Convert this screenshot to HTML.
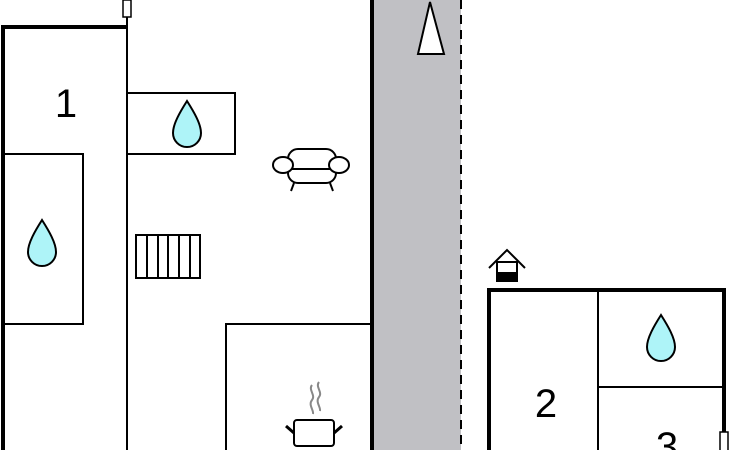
<!DOCTYPE html>
<html><head><style>
body{margin:0;width:730px;height:450px;overflow:hidden;background:#fff}
svg{display:block}
text{font-family:"Liberation Sans",sans-serif;fill:#000}
</style></head><body>
<svg width="730" height="450" viewBox="0 0 730 450">
<rect x="373" y="0" width="88" height="450" fill="#c0c0c4"/>
<line x1="372" y1="0" x2="372" y2="450" stroke="#000" stroke-width="4"/>
<line x1="461" y1="0" x2="461" y2="450" stroke="#000" stroke-width="2" stroke-dasharray="9,6"/>
<polygon points="430,2 418,54 444,54" fill="#fff" stroke="#000" stroke-width="2"/>
<!-- left building -->
<path d="M3,450 V27 H128" fill="none" stroke="#000" stroke-width="4"/>
<line x1="127" y1="17" x2="127" y2="450" stroke="#000" stroke-width="2"/>
<rect x="123" y="0" width="8" height="17" fill="#fff" stroke="#000" stroke-width="1.5"/>
<text x="66" y="117" font-size="40" text-anchor="middle">1</text>
<rect x="3" y="154" width="80" height="170" fill="none" stroke="#000" stroke-width="2"/>
<rect x="127" y="93" width="108" height="61" fill="none" stroke="#000" stroke-width="2"/>
<rect x="226" y="324" width="146" height="130" fill="none" stroke="#000" stroke-width="2"/>
<!-- drops -->
<g fill="#aef4f8" stroke="#000" stroke-width="2">
<path d="M187,101 C180,112 173,124 173,133 A14,14 0 0 0 201,133 C201,124 194,112 187,101 Z"/>
<path d="M42,220 C35,231 28,243 28,252 A14,14 0 0 0 56,252 C56,243 49,231 42,220 Z"/>
<path d="M661,315 C654,326 647,338 647,347 A14,14 0 0 0 675,347 C675,338 668,326 661,315 Z"/>
</g>
<!-- sofa -->
<g fill="#fff" stroke="#000" stroke-width="2">
<rect x="288" y="149" width="48" height="34" rx="10"/>
<line x1="288" y1="169" x2="336" y2="169"/>
<ellipse cx="283" cy="165" rx="10" ry="8"/>
<ellipse cx="339" cy="165" rx="10" ry="8"/>
<line x1="294" y1="183" x2="291" y2="191"/>
<line x1="330" y1="183" x2="333" y2="191"/>
</g>
<!-- radiator -->
<g fill="none" stroke="#000" stroke-width="2">
<rect x="136" y="235" width="64" height="43"/>
<line x1="147" y1="235" x2="147" y2="278"/><line x1="158" y1="235" x2="158" y2="278"/>
<line x1="168" y1="235" x2="168" y2="278"/><line x1="179" y1="235" x2="179" y2="278"/>
<line x1="190" y1="235" x2="190" y2="278"/>
</g>
<!-- pot -->
<g fill="none" stroke="#000" stroke-width="2">
<rect x="294" y="420" width="40" height="26" rx="3" fill="#fff"/>
<line x1="286" y1="426" x2="294" y2="433" stroke-width="3"/>
<line x1="342" y1="426" x2="334" y2="433" stroke-width="3"/>
</g>
<g fill="none" stroke="#888" stroke-width="2">
<path d="M312,385 c-4,5 4,10 0,15 c-4,5 2,10 1,14"/>
<path d="M319,382 c-4,5 4,10 0,15 c-4,5 2,10 1,14"/>
</g>
<!-- right building -->
<path d="M489,450 V290 H724 V450" fill="none" stroke="#000" stroke-width="4"/>
<line x1="598" y1="290" x2="598" y2="450" stroke="#000" stroke-width="2"/>
<line x1="598" y1="387" x2="724" y2="387" stroke="#000" stroke-width="2"/>
<text x="546" y="417" font-size="40" text-anchor="middle">2</text>
<text x="667" y="460" font-size="40" text-anchor="middle">3</text>
<rect x="720" y="432" width="8" height="20" fill="#fff" stroke="#000" stroke-width="1.5"/>
<!-- house icon -->
<polyline points="489,268 507,250 525,268" fill="none" stroke="#000" stroke-width="2"/>
<rect x="497" y="262" width="20" height="19" fill="#fff" stroke="#000" stroke-width="2"/>
<rect x="497" y="272" width="20" height="9" fill="#000"/>
</svg>
</body></html>
